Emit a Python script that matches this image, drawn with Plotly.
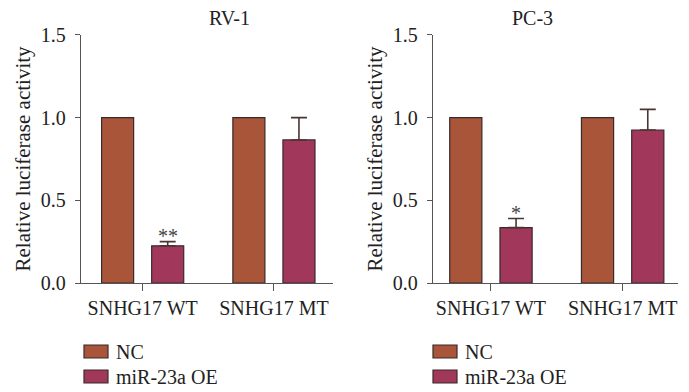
import plotly.graph_objects as go

categories = ["SNHG17 WT", "SNHG17 MT"]
panels = ["RV-1", "PC-3"]
series_names = ["NC", "miR-23a OE"]
nc_rv1 = [1.0, 1.0]
oe_rv1 = [0.225, 0.865]
oe_rv1_err = [0.025, 0.135]
nc_pc3 = [1.0, 1.0]
oe_pc3 = [0.335, 0.925]
oe_pc3_err = [0.055, 0.125]
sig_rv1 = ["**", ""]
sig_pc3 = ["*", ""]
y_ticks = [0.0, 0.5, 1.0, 1.5]

NC_COLOR = "#A9553A"
OE_COLOR = "#A1385B"
COLORS = [NC_COLOR, OE_COLOR]
LINE = "#3a2a2a"
AXIS = "#555555"
FONT = "Liberation Serif"
FS = 20
W, H = 689, 392

fig = go.Figure()

data = [
    ("x", "y", nc_rv1, oe_rv1, oe_rv1_err, sig_rv1),
    ("x2", "y2", nc_pc3, oe_pc3, oe_pc3_err, sig_pc3),
]
for xa, ya, nc, oe, err, sig in data:
    fig.add_trace(go.Bar(x=categories, y=nc, name=series_names[0],
                         marker=dict(color=NC_COLOR, line=dict(color=LINE, width=1.2)),
                         xaxis=xa, yaxis=ya, showlegend=False))
    fig.add_trace(go.Bar(x=categories, y=oe, name=series_names[1],
                         marker=dict(color=OE_COLOR, line=dict(color=LINE, width=1.2)),
                         error_y=dict(type="data", symmetric=False, array=err, arrayminus=[0] * len(err),
                                      color="#4a3535", thickness=1.6, width=8),
                         xaxis=xa, yaxis=ya, showlegend=False))
    for c, v, e, s in zip(categories, oe, err, sig):
        if s:
            fig.add_annotation(x=c, y=v + e, xref=xa, yref=ya, text=s, showarrow=False,
                               xshift=25, yanchor="bottom", yshift=-7,
                               font=dict(family=FONT, size=FS, color="#444"))

axis_common = dict(showline=True, linecolor=AXIS, linewidth=1.2, ticks="outside",
                   tickcolor=AXIS, tickwidth=1.2, showgrid=False, zeroline=False,
                   tickfont=dict(family=FONT, size=FS, color="#222"))

ytitle = dict(text="Relative luciferase activity", font=dict(family=FONT, size=21, color="#222"), standoff=4)

fig.update_layout(
    width=W, height=H, margin=dict(l=0, r=0, t=0, b=0, autoexpand=False),
    plot_bgcolor="white", paper_bgcolor="white",
    barmode="group", bargap=0.237, bargroupgap=0.36,
    font=dict(family=FONT, color="#222"),
    showlegend=False,
    xaxis=dict(domain=[0.1175, 0.4833], range=[-0.47, 1.45], anchor="y", ticklen=7, **axis_common),
    xaxis2=dict(domain=[0.6284, 0.984], range=[-0.44, 1.42], anchor="y2", ticklen=7, **axis_common),
    yaxis=dict(domain=[0.278, 0.911], range=[0, 1.5], tickvals=y_ticks, tickformat=".1f", anchor="x",
               ticklen=5, ticklabelstandoff=5, title=ytitle, **axis_common),
    yaxis2=dict(domain=[0.278, 0.911], range=[0, 1.5], tickvals=y_ticks, tickformat=".1f", anchor="x2",
                ticklen=5, ticklabelstandoff=5, title=ytitle, **axis_common),
)

doms = [fig.layout.xaxis.domain, fig.layout.xaxis2.domain]
for i, t in enumerate(panels):
    dom = doms[i]
    fig.add_annotation(x=(dom[0] + dom[1]) / 2, y=1 - 18 / H, xref="paper", yref="paper", text=t,
                       showarrow=False, yanchor="middle",
                       font=dict(family=FONT, size=FS, color="#222"))

# manual legends (one under each panel)
legend_left = [84, 433]
legend_top = [345, 370]
for lx in legend_left:
    for j, name in enumerate(series_names):
        y0 = legend_top[j]
        fig.add_shape(type="rect", xref="paper", yref="paper",
                      x0=lx / W, x1=(lx + 24) / W, y0=1 - (y0 + 13) / H, y1=1 - y0 / H,
                      fillcolor=COLORS[j], line=dict(color=LINE, width=1.2))
        fig.add_annotation(x=(lx + 30) / W, y=1 - (y0 + 6.5) / H, xref="paper", yref="paper",
                           text=name, showarrow=False, xanchor="left", yanchor="middle",
                           font=dict(family=FONT, size=FS, color="#222"))

fig.write_html("out.html")
